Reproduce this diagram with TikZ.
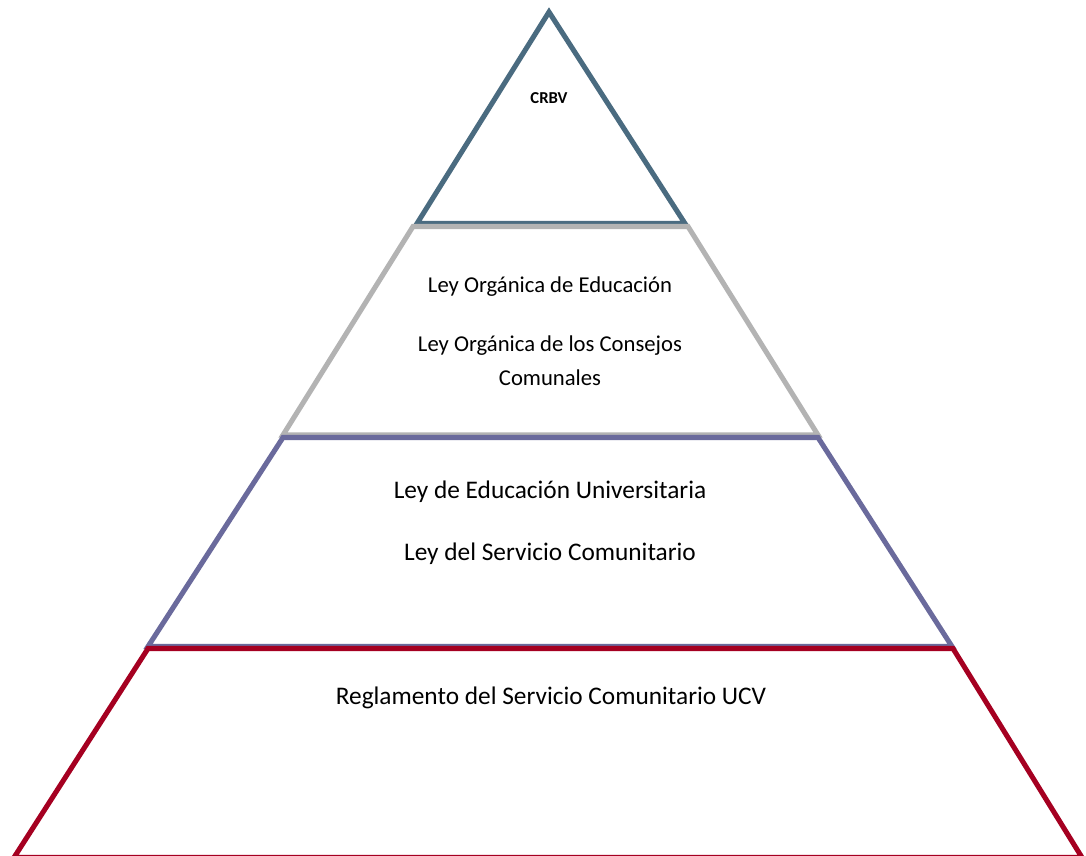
\documentclass[tikz,border=0pt]{standalone}
\usepackage{fontspec}
\setmainfont{Carlito}
\usepackage{tikz}
\definecolor{lsteel}{HTML}{4A6B80}
\definecolor{lgray}{HTML}{B3B3B3}
\definecolor{lslate}{HTML}{6A6A9C}
\definecolor{lcrimson}{HTML}{A50021}
\begin{document}
\begin{tikzpicture}[x=0.75pt,y=-0.75pt]
    \tikzset{layer/.style={line width=3.8pt, line join=miter, fill=white},
      lbl/.style={align=center, inner sep=0pt, font=\fontsize{19}{23}\selectfont}}
    \useasboundingbox (0,0) rectangle (1086,856);
    \draw[layer, draw=lsteel] (549,12) -- (685,223.5) -- (417,223.5) -- cycle;
    \draw[layer, draw=lgray] (413,226.5) -- (688,226.5) -- (818,435) -- (283,435) -- cycle;
    \draw[layer, draw=lslate] (283,437.5) -- (818,437.5) -- (952,646.5) -- (148,646.5) -- cycle;
    \draw[layer, draw=lcrimson] (148,648.5) -- (953,648.5) -- (1082,857.5) -- (14,857.5) -- cycle;
    \node[lbl, font=\bfseries\fontsize{12.5}{15}\selectfont] at (549,98) (crbv) {CRBV};
    \node[lbl, font=\fontsize{17}{20}\selectfont] at (550,287) (loe) {Ley Orgánica de Educación};
    \node[lbl, font=\fontsize{17}{25.5}\selectfont] at (550,361) (locc) {Ley Orgánica de los Consejos\\Comunales};
    \node[lbl] at (550,492) (leu) {Ley de Educación Universitaria};
    \node[lbl] at (550,554) (lsc) {Ley del Servicio Comunitario};
    \node[lbl] at (551,698) (rsc) {Reglamento del Servicio Comunitario UCV};
\end{tikzpicture}
\end{document}
